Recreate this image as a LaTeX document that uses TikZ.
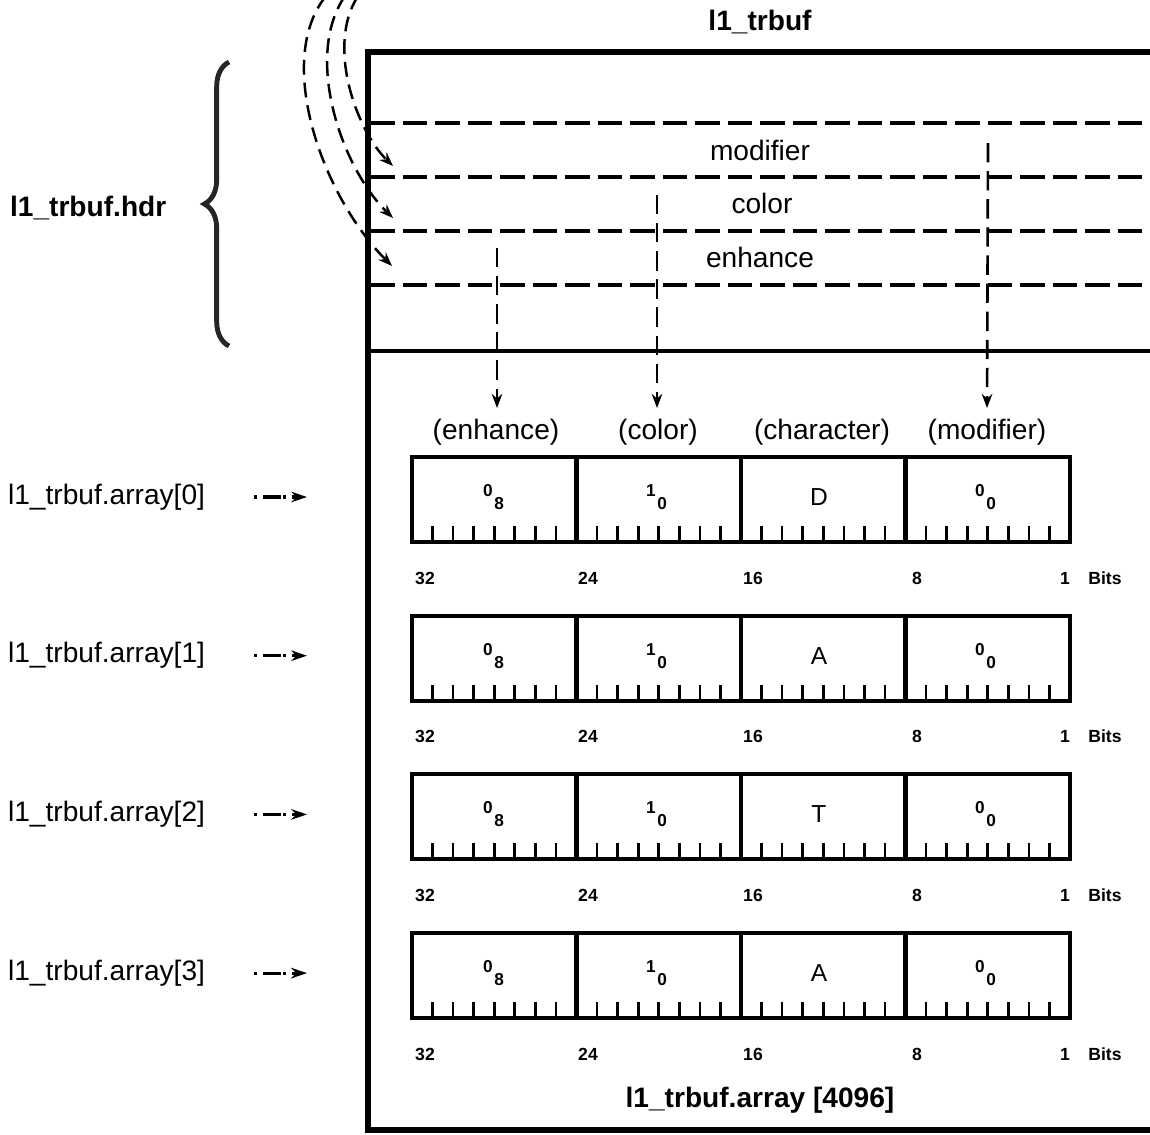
\documentclass[tikz,border=0pt]{standalone}
\usepackage{fontspec}
\setmainfont{Liberation Sans}
\usetikzlibrary{arrows.meta,calc,positioning,decorations.pathreplacing}

\begin{document}
\begin{tikzpicture}[x=0.02cm, y=-0.02cm, >=Stealth,
  txt/.style={font=\fontsize{16}{18}\selectfont, inner sep=1pt},
  btxt/.style={font=\fontsize{16}{18}\selectfont\bfseries, inner sep=1pt},
  bitno/.style={font=\fontsize{10}{12}\selectfont\bfseries, inner sep=0pt},
  cellval/.style={font=\fontsize{14}{16}\selectfont, inner sep=0pt},
  code/.style={font=\fontsize{14}{16}\selectfont\bfseries, inner sep=0pt},
  hdrline/.style={line width=2.3pt, dash pattern=on 14pt off 4.5pt},
  vlink/.style={line width=1.5pt, dash pattern=on 11pt off 5pt, -{Stealth[length=8pt,width=6pt]}},
  curvelink/.style={line width=1.4pt, dash pattern=on 8.5pt off 4.5pt, -{Stealth[length=8pt,width=6pt]}},
  ptr/.style={line width=1.8pt, dash pattern=on 1.8pt off 3.5pt on 10pt off 1pt, -{Stealth[length=9pt,width=6pt]}},
  regbox/.style={draw, line width=2.3pt},
  tick/.style={line width=1.5pt}]
  \useasboundingbox (0,0) rectangle (1150,1134);
  \clip (0,0) rectangle (1150,1134);

  % the l1_trbuf structure
  \node[btxt] (title) at (760,22) {l1\_trbuf};
  \draw[line width=3.2pt] (368,1130) -- (368,52) -- (1156,52) -- (1156,1130) -- cycle;
  \draw[line width=2pt] (368,351) -- (1156,351);
  \foreach \y in {123,177,231,285}
    \draw[hdrline] (370,\y) -- (1156,\y);

  % header fields
  \node[txt] (fmod) at (760,150) {modifier};
  \node[txt] (fcol) at (762,203) {color};
  \node[txt] (fenh) at (760,257) {enhance};

  % header brace and its label
  \node[btxt, anchor=west] (hdrlbl) at (8,208) {l1\_trbuf.hdr};
  \draw[black!85, line width=2.8pt, decorate, decoration={brace, amplitude=14pt}] (229,346) -- (229,62);

  % curved pointers into the header
  \coordinate (c1a) at (358,-4);  \coordinate (c1b) at (393,166);
  \coordinate (c2a) at (345,-4);  \coordinate (c2b) at (393,218);
  \coordinate (c3a) at (326,-4);  \coordinate (c3b) at (392,266);
  \draw[curvelink] (c1a) .. controls (326,45) and (356,130) .. (c1b);
  \draw[curvelink] (c2a) .. controls (304,55) and (340,166) .. (c2b);
  \draw[curvelink] (c3a) .. controls (274,60) and (322,196) .. (c3b);

  % column headings
  \node[txt] (cenh) at (496,432) {(enhance)};
  \node[txt] (ccol) at (658,432) {(color)};
  \node[txt] (cchr) at (822,432) {(character)};
  \node[txt] (cmod) at (987,432) {(modifier)};

  \coordinate (smod) at (988,143);
  \coordinate (scol) at (657,195);
  \coordinate (senh) at (497,248);
  \draw[vlink, shorten >=5pt] (smod) -- (cmod.north);
  \draw[vlink, shorten >=5pt] (scol) -- (ccol.north-|scol);
  \draw[vlink, shorten >=5pt] (senh) -- (cenh.north-|senh);

  % the array entries
  \foreach \i/\ch in {0/D,1/A,2/T,3/A} {
    \pgfmathsetmacro{\top}{457+158.7*\i}
    \pgfmathsetmacro{\bot}{\top+85}
    \pgfmathsetmacro{\mid}{\top+40}
    \pgfmathsetmacro{\num}{\top+121}
    \draw[regbox] (412,\top) rectangle (1070,\bot);
    \foreach \j in {1,2,3}
      \draw[line width=2.3pt] ({412+164.5*\j},\top) -- ({412+164.5*\j},\bot);
    \foreach \k in {1,...,31}
      \draw[tick] ({412+20.5625*\k},\bot) -- ({412+20.5625*\k},\bot-16);
    \node[code] (enh\i) at (494,\mid) {\textsuperscript{0}\kern0.5pt\textsubscript{8}};
    \node[code] (col\i) at (657,\mid) {\textsuperscript{1}\kern0.5pt\textsubscript{0}};
    \node[cellval] (chr\i) at (819,\mid) {\ch};
    \node[code] (mod\i) at (986,\mid) {\textsuperscript{0}\kern0.5pt\textsubscript{0}};
    \node[bitno] (b32\i) at (425,\num) {32};
    \node[bitno] (b24\i) at (588,\num) {24};
    \node[bitno] (b16\i) at (753,\num) {16};
    \node[bitno] (b8\i) at (917,\num) {8};
    \node[bitno] (b1\i) at (1065,\num) {1};
    \node[bitno] (bits\i) at (1105,\num) {Bits};
    \node[txt, anchor=west] (arr\i) at (6,\mid) {l1\_trbuf.array[\i]};
    \coordinate (ps\i) at (254,\mid);
    \coordinate (pe\i) at (307,\mid);
    \draw[ptr] (ps\i) -- (pe\i);
  }

  \node[btxt] (arrlbl) at (760,1100) {l1\_trbuf.array [4096]};
\end{tikzpicture}
\end{document}
